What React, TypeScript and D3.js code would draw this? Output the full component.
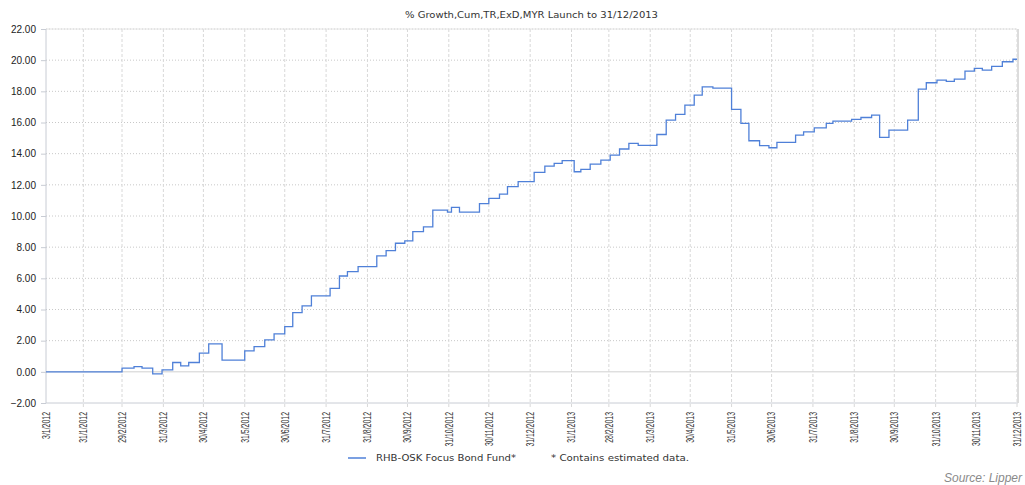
import * as d3 from 'd3'
import { useEffect, useRef } from 'react'

const title = '% Growth,Cum,TR,ExD,MYR Launch to 31/12/2013'
const seriesName = 'RHB-OSK Focus Bond Fund*'

const tickLabels = [
    '3/1/2012', '31/1/2012', '29/2/2012', '31/3/2012', '30/4/2012', '31/5/2012',
    '30/6/2012', '31/7/2012', '31/8/2012', '30/9/2012', '31/10/2012', '30/11/2012',
    '31/12/2012', '31/1/2013', '28/2/2013', '31/3/2013', '30/4/2013', '31/5/2013',
    '30/6/2013', '31/7/2013', '31/8/2013', '30/9/2013', '31/10/2013', '30/11/2013',
    '31/12/2013',
]

const yTicks = [-2, 0, 2, 4, 6, 8, 10, 12, 14, 16, 18, 20, 22]

// step dates of the fund growth (weekly-ish moves)
const dates = [
    '3/1/2012', '29/2/2012', '9/3/2012', '15/3/2012', '23/3/2012', '30/3/2012',
    '7/4/2012', '13/4/2012', '19/4/2012', '27/4/2012', '4/5/2012', '14/5/2012',
    '31/5/2012', '7/6/2012', '15/6/2012', '22/6/2012', '30/6/2012', '6/7/2012',
    '13/7/2012', '20/7/2012', '3/8/2012', '10/8/2012', '16/8/2012', '24/8/2012',
    '7/9/2012', '14/9/2012', '21/9/2012', '28/9/2012', '4/10/2012', '12/10/2012',
    '19/10/2012', '30/10/2012', '2/11/2012', '8/11/2012', '23/11/2012', '30/11/2012',
    '8/12/2012', '14/12/2012', '22/12/2012', '3/1/2013', '11/1/2013', '18/1/2013',
    '24/1/2013', '2/2/2013', '7/2/2013', '14/2/2013', '22/2/2013', '1/3/2013',
    '8/3/2013', '15/3/2013', '22/3/2013', '5/4/2013', '12/4/2013', '19/4/2013',
    '26/4/2013', '3/5/2013', '9/5/2013', '17/5/2013', '31/5/2013', '7/6/2013',
    '13/6/2013', '21/6/2013', '28/6/2013', '4/7/2013', '18/7/2013', '24/7/2013',
    '1/8/2013', '10/8/2013', '15/8/2013', '29/8/2013', '5/9/2013', '13/9/2013',
    '19/9/2013', '26/9/2013', '10/10/2013', '18/10/2013', '24/10/2013', '1/11/2013',
    '8/11/2013', '14/11/2013', '22/11/2013', '29/11/2013', '5/12/2013', '12/12/2013',
    '20/12/2013', '28/12/2013', '31/12/2013',
]

const values = [
    0.0, 0.24, 0.34, 0.24, -0.13, 0.13,
    0.6, 0.38, 0.6, 1.2, 1.79, 0.75,
    1.35, 1.62, 2.05, 2.44, 2.9, 3.8,
    4.23, 4.87, 5.36, 6.15, 6.43, 6.75,
    7.44, 7.78, 8.25, 8.4, 9.0, 9.3,
    10.38, 10.25, 10.55, 10.25, 10.8, 11.13,
    11.4, 11.88, 12.2, 12.8, 13.2, 13.38,
    13.55, 12.84, 12.99, 13.33, 13.59, 13.91,
    14.3, 14.66, 14.53, 15.23, 16.15, 16.52,
    17.12, 17.76, 18.29, 18.2, 16.84, 15.94,
    14.83, 14.51, 14.38, 14.72, 15.19, 15.4,
    15.66, 15.94, 16.09, 16.2, 16.32, 16.47,
    15.04, 15.51, 16.15, 18.14, 18.55, 18.72,
    18.64, 18.78, 19.3, 19.47, 19.36, 19.6,
    19.9, 20.06, 20.06,
]

export default function App() {
    const ref = useRef<SVGSVGElement>(null)

    useEffect(() => {
        const parse = d3.timeParse('%d/%m/%Y')
        const left = 46
        const right = 1017
        const top = 29
        const bottom = 403

        const x = d3
            .scaleTime()
            .domain([parse('3/1/2012') as Date, parse('31/12/2013') as Date])
            .range([left, right])

        const y = d3.scaleLinear().domain([-2, 22]).range([bottom, top])

        const svg = d3.select(ref.current)
        svg.selectAll('*').remove()

        const font = "'Liberation Sans', Arial, sans-serif"
        const wideFont = "'DejaVu Sans', Verdana, sans-serif"

        // title
        svg.append('text')
            .attr('x', 405)
            .attr('y', 18)
            .attr('font-family', wideFont)
            .attr('font-size', 9.5)
            .attr('fill', '#333')
            .attr('textLength', 253)
            .attr('lengthAdjust', 'spacingAndGlyphs')
            .text(title)

        const grid = svg.append('g')

        // horizontal grid
        grid.selectAll('line.h')
            .data(yTicks.filter((d) => d !== -2))
            .enter()
            .append('line')
            .attr('x1', left)
            .attr('x2', right)
            .attr('y1', (d) => y(d))
            .attr('y2', (d) => y(d))
            .attr('stroke', (d) => (d === 0 ? '#d0d0d0' : '#c8c8c8'))
            .attr('stroke-width', 1)
            .attr('stroke-dasharray', (d) => (d === 0 ? null : '1,2'))

        // vertical grid
        grid.selectAll('line.v')
            .data(tickLabels.slice(1))
            .enter()
            .append('line')
            .attr('x1', (d) => x(parse(d) as Date))
            .attr('x2', (d) => x(parse(d) as Date))
            .attr('y1', top)
            .attr('y2', bottom + 4)
            .attr('stroke', '#d8d8d8')
            .attr('stroke-width', 1)
            .attr('stroke-dasharray', '3,2')

        // frame
        svg.append('line')
            .attr('x1', left).attr('x2', left)
            .attr('y1', top).attr('y2', bottom)
            .attr('stroke', '#c8ccd4')
        svg.append('line')
            .attr('x1', left).attr('x2', right + 1)
            .attr('y1', bottom).attr('y2', bottom)
            .attr('stroke', '#c8ccd4')
        svg.append('line')
            .attr('x1', right + 1).attr('x2', right + 1)
            .attr('y1', top).attr('y2', bottom)
            .attr('stroke', '#dcdcdc')
            .attr('stroke-width', 2)
        svg.append('line')
            .attr('x1', left).attr('x2', right)
            .attr('y1', top).attr('y2', top)
            .attr('stroke', '#e4e4e4')

        // y axis
        const axisY = svg.append('g').attr('transform', `translate(${left},0)`)
        axisY.call(
            d3.axisLeft(y)
                .tickValues(d3.range(-2, 22.01, 0.4))
                .tickSize(3)
                .tickFormat(() => '')
        )
        axisY.call(
            d3.axisLeft(y)
                .tickValues(yTicks)
                .tickSize(5)
                .tickPadding(5)
                .tickFormat((d) => d3.format('.2f')(d as number))
        )
        axisY.selectAll('.domain').remove()
        axisY.selectAll('.tick line').attr('stroke', '#c8ccd4')
        axisY.selectAll('.tick text')
            .attr('font-family', font)
            .attr('font-size', 10)
            .attr('fill', '#222')

        // x axis labels (narrow, rotated)
        const sx = 0.66
        const axisX = svg.append('g').attr('transform', `translate(0,${bottom})`)
        axisX.call(
            d3.axisBottom(x)
                .tickValues(tickLabels.map((d) => parse(d) as Date))
                .tickSize(0)
                .tickFormat((d, i) => tickLabels[i])
        )
        axisX.select('.domain').remove()
        axisX.selectAll('.tick text')
            .attr('font-family', font)
            .attr('font-size', 10.5)
            .attr('fill', '#333')
            .attr('text-anchor', 'end')
            .attr('transform', `rotate(-90) scale(${sx},1)`)
            .attr('x', -9 / sx)
            .attr('y', 0)
            .attr('dy', '0.32em')

        // series
        const data = dates.map((d, i) => ({ date: parse(d) as Date, value: values[i] }))
        const line = d3
            .line<{ date: Date; value: number }>()
            .x((d) => x(d.date))
            .y((d) => y(d.value))
            .curve(d3.curveStepAfter)

        svg.append('path')
            .datum(data)
            .attr('d', line)
            .attr('fill', 'none')
            .attr('stroke', '#4f80d8')
            .attr('stroke-width', 1.3)

        // legend
        svg.append('line')
            .attr('x1', 348).attr('x2', 366)
            .attr('y1', 458).attr('y2', 458)
            .attr('stroke', '#4f80d8')
            .attr('stroke-width', 1.5)
        svg.append('text')
            .attr('x', 376)
            .attr('y', 461)
            .attr('font-family', wideFont)
            .attr('font-size', 9)
            .attr('fill', '#333')
            .attr('textLength', 140)
            .attr('lengthAdjust', 'spacingAndGlyphs')
            .text(seriesName)
        svg.append('text')
            .attr('x', 551)
            .attr('y', 461)
            .attr('font-family', wideFont)
            .attr('font-size', 9)
            .attr('fill', '#333')
            .attr('textLength', 138)
            .attr('lengthAdjust', 'spacingAndGlyphs')
            .text('*  Contains estimated data.')

        svg.append('text')
            .attr('x', 1022)
            .attr('y', 482)
            .attr('text-anchor', 'end')
            .attr('font-family', font)
            .attr('font-size', 12)
            .attr('font-style', 'italic')
            .attr('fill', '#8a8a8a')
            .text('Source: Lipper')
    }, [])

    return (
        <svg
            ref={ref}
            width={1025}
            height={485}
            style={{ position: 'absolute', left: 0, top: 0, background: '#fff' }}
        />
    )
}
